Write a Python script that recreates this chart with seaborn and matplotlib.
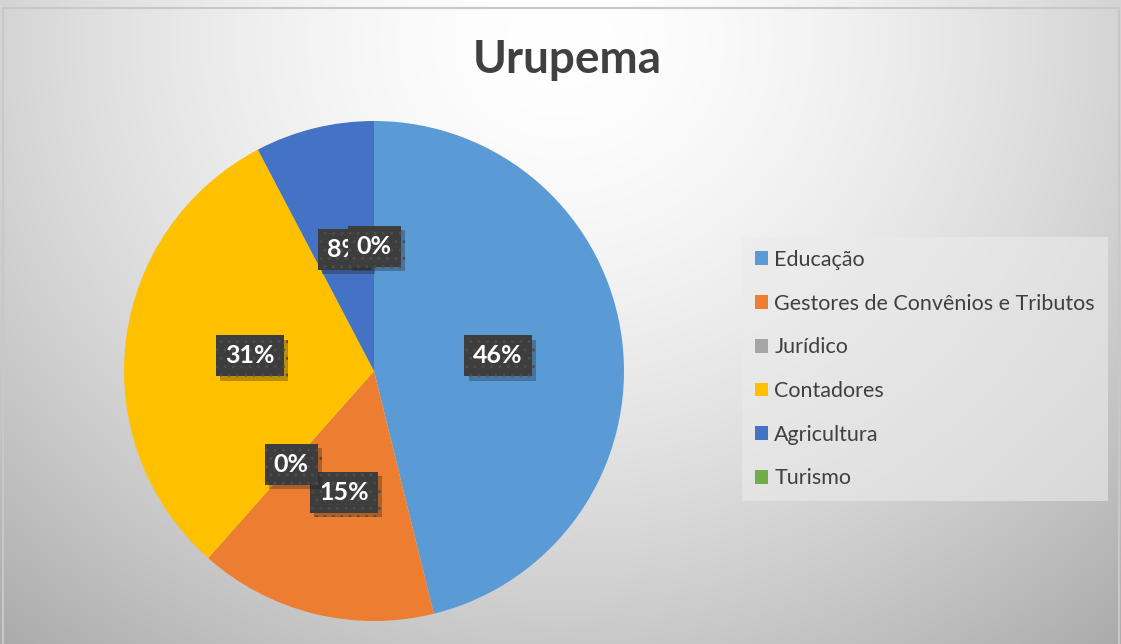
import numpy as np
import matplotlib
matplotlib.use("Agg")
import matplotlib.pyplot as plt
import matplotlib.patheffects as pe
import seaborn as sns

# dados (contagens)
categorias = ['Educação', 'Gestores de Convênios e Tributos', 'Jurídico',
              'Contadores', 'Agricultura', 'Turismo']
valores = [6, 2, 0, 4, 1, 0]
cores = ['#5B9BD5', '#ED7D31', '#A5A5A5', '#FFC000', '#4472C4', '#70AD47']
titulo = 'Urupema'

sns.set_theme(style="white")
plt.rcParams['font.family'] = ['Lato', 'DejaVu Sans']

W, H = 1121, 644
fig = plt.figure(figsize=(W / 100, H / 100), dpi=100)

# fundo com gradiente radial
bg = fig.add_axes([0, 0, 1, 1])
yy, xx = np.mgrid[0:H, 0:W]
d = np.sqrt(((xx - 560) / 700.0) ** 2 + ((yy - 40) / 650.0) ** 2)
g = np.clip(1.0 - 0.24 * d ** 1.6, 0, 1)
bg.imshow(np.dstack([g, g, g]), extent=[0, W, H, 0], aspect='auto')
bg.plot([3, 1119, 1119, 3, 3], [8, 8, H + 5, H + 5, 8], color='#c8c8c8', lw=1.5)
bg.set_xlim(0, W)
bg.set_ylim(H, 0)
bg.axis('off')

cx, cy, r = 374, 371, 250
ax = fig.add_axes([(cx - r) / W, (H - cy - r) / H, 2 * r / W, 2 * r / H])
wedges, _ = ax.pie(valores, colors=cores, startangle=90, counterclock=False,
                   radius=1, wedgeprops=dict(linewidth=0))
ax.set_xlim(-1, 1)
ax.set_ylim(-1, 1)
ax.axis('off')

# rotulos de porcentagem (o 0% de Turismo cobre parte do 8%, como no Excel)
total = sum(valores)
sombra = [pe.withSimplePatchShadow(offset=(3, -3), shadow_rgbFace='k', alpha=0.3)]
for i, w in enumerate(wedges):
    ang = np.deg2rad((w.theta1 + w.theta2) / 2)
    x, y = 0.5 * np.cos(ang), 0.5 * np.sin(ang)
    pct = f"{round(100 * valores[i] / total)}%"
    t = ax.text(x, y, pct, ha='center', va='center', color='white',
                fontsize=18, fontweight='bold', zorder=5 + i,
                bbox=dict(boxstyle='square,pad=0.36', facecolor='#3d3d3d',
                          edgecolor='#4c4c4c', hatch='..', linewidth=0))
    t.get_bbox_patch().set_path_effects(sombra)

fig.text(567 / W, 1 - 60 / H, titulo, ha='center', va='center',
         fontsize=33, fontweight='bold', color='#404040')

leg = fig.legend(wedges, categorias, loc='upper left',
                 bbox_to_anchor=(742 / W, 1 - 237 / H), frameon=True,
                 fancybox=False, fontsize=15.5, handlelength=0.6,
                 handleheight=0.6, handletextpad=0.3, labelspacing=1.1,
                 borderpad=0.6, borderaxespad=0)
leg.get_frame().set_facecolor('#ebebeb')
leg.get_frame().set_edgecolor('none')
leg.get_frame().set_alpha(0.6)
for txt in leg.get_texts():
    txt.set_color('#404040')

fig.savefig('out.png', dpi=100)
